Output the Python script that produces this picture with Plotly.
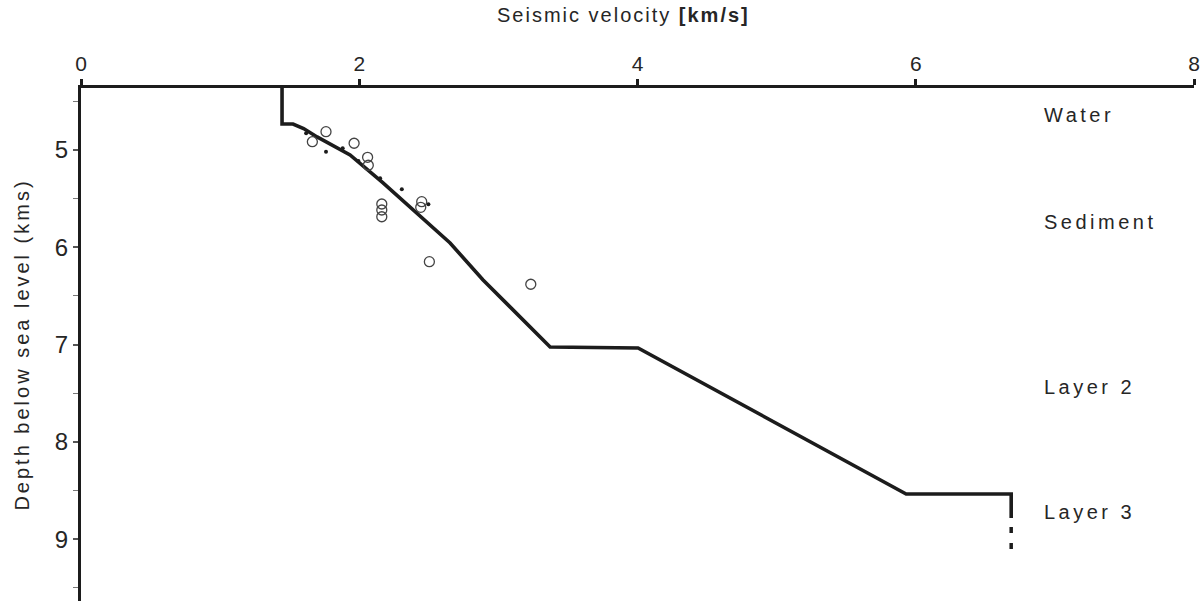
import plotly.graph_objects as go

# Velocity-depth profile (km/s, km below sea level)
profile_v = [1.445, 1.445, 1.524, 1.60, 1.697, 1.934, 2.171, 2.416, 2.653, 2.890, 3.372, 4.004, 5.931, 6.686, 6.686]
profile_d = [4.363, 4.733, 4.733, 4.78, 4.866, 5.051, 5.339, 5.647, 5.956, 6.336, 7.025, 7.035, 8.535, 8.535, 8.782]

# Dotted continuation below Layer 3
ext_v = [6.686, 6.686]
ext_d = [8.875, 9.121]

# Open circles (measurements)
circ_v = [1.761, 1.663, 1.963, 2.060, 2.065, 2.162, 2.162, 2.162, 2.449, 2.442, 2.504, 3.233]
circ_d = [4.812, 4.915, 4.931, 5.075, 5.157, 5.555, 5.617, 5.686, 5.531, 5.589, 6.148, 6.380]

# Small filled dots
dot_v = [1.761, 2.306, 2.497, 1.618, 1.881, 1.994, 2.150]
dot_d = [5.017, 5.404, 5.558, 4.828, 4.983, 5.113, 5.291]

x_ticks = [0, 2, 4, 6, 8]
y_ticks = [5, 6, 7, 8, 9]

layers = ["Water", "Sediment", "Layer 2", "Layer 3"]
layer_depths = [4.64, 5.74, 7.436, 8.72]

FONT = "Liberation Sans, Arial, sans-serif"
INK = "#1c1c1c"
TXT = "#262626"


def spaced(s, px):
    return f'<span style="letter-spacing:{px}px">{s}</span>'


fig = go.Figure()
fig.add_trace(go.Scatter(x=profile_v, y=profile_d, mode="lines",
                         line=dict(color=INK, width=3.6), showlegend=False, hoverinfo="skip"))
fig.add_trace(go.Scatter(x=ext_v, y=ext_d, mode="lines",
                         line=dict(color=INK, width=3.5, dash="6px,10px"), showlegend=False, hoverinfo="skip"))
fig.add_trace(go.Scatter(x=dot_v, y=dot_d, mode="markers",
                         marker=dict(size=4, color=INK), showlegend=False, hoverinfo="skip"))
fig.add_trace(go.Scatter(x=circ_v, y=circ_d, mode="markers",
                         marker=dict(size=10, symbol="circle-open", color="#444", line=dict(width=1.3)),
                         showlegend=False, hoverinfo="skip"))

for name, d in zip(layers, layer_depths):
    fig.add_annotation(x=6.909, y=d, text=spaced(name, 3.5), showarrow=False, xanchor="left", yanchor="middle",
                       font=dict(family=FONT, size=20, color=TXT))

fig.add_annotation(x=0.0, y=1.0, xref="paper", yref="paper", xshift=495 - 81, yshift=73,
                   text=spaced("Seismic velocity <b>[km/s]</b>", 2), showarrow=False,
                   xanchor="left", yanchor="middle",
                   font=dict(family=FONT, size=20, color=TXT))

fig.update_layout(
    width=1201, height=601,
    margin=dict(l=81, r=7, t=88, b=0),
    paper_bgcolor="white", plot_bgcolor="white",
    xaxis=dict(side="top", range=[0, 8], tickvals=x_ticks, ticktext=[str(t) for t in x_ticks],
               showline=True, linewidth=3, linecolor=INK, ticks="outside", ticklen=6, tickwidth=3,
               tickcolor=INK, showgrid=False, zeroline=False,
               tickfont=dict(family=FONT, size=21, color=TXT)),
    yaxis=dict(range=[9.635, 4.363], tickvals=y_ticks, ticktext=[str(t) for t in y_ticks],
               showline=True, linewidth=3, linecolor=INK, ticks="outside", ticklen=5, tickwidth=1.5,
               tickcolor="#555", showgrid=False, zeroline=False,
               minor=dict(dtick=0.5, tick0=4.5, ticks="outside", ticklen=5, tickwidth=1, tickcolor="#777"),
               tickfont=dict(family=FONT, size=24, color=TXT),
               title=dict(text=spaced("Depth below sea level (kms)", 3), standoff=20,
                          font=dict(family=FONT, size=20, color=TXT))),
)

fig.write_html("out.html")
